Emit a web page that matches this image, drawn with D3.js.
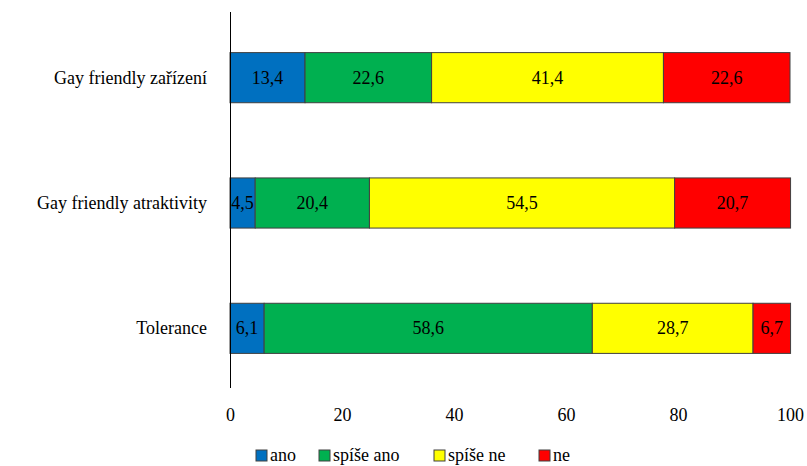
<!DOCTYPE html>
<html>
<head>
<meta charset="utf-8">
<script src="https://cdn.jsdelivr.net/npm/d3@7"></script>
</head>
<body style="margin:0">
<svg id="chart" width="807" height="466" style="display:block"></svg>
<script>
// Categories (top to bottom) and answer groups
const categories = ["Gay friendly zařízení", "Gay friendly atraktivity", "Tolerance"];
const seriesNames = ["ano", "spíše ano", "spíše ne", "ne"];
const seriesColors = ["#0070C0", "#00B050", "#FFFF00", "#FF0000"];

// Shares in percent, one array per answer group, in category order
const ano      = [13.4, 4.5, 6.1];
const spiseAno = [22.6, 20.4, 58.6];
const spiseNe  = [41.4, 54.5, 28.7];
const ne       = [22.6, 20.7, 6.7];

const xTicks = [0, 20, 40, 60, 80, 100];

const seriesValues = [ano, spiseAno, spiseNe, ne];
const FONT = "Liberation Serif";
// Text is set at 20px and scaled to 18px on screen
const FS = 20, K = 0.9;

const rows = categories.map((c, i) => {
  const r = { category: c };
  seriesNames.forEach((s, j) => { r[s] = seriesValues[j][i]; });
  return r;
});

const svg = d3.select("#chart");
const plotLeft = 230, plotRight = 790, axisTop = 12, axisBottom = 388;

const x = d3.scaleLinear().domain([0, 100]).range([plotLeft, plotRight]);
const y = d3.scaleBand().domain(categories).range([15, 391]).paddingInner(0.6).paddingOuter(0.3);

const stacked = d3.stack().keys(seriesNames)(rows);
const fmt = v => d3.format(".1f")(v).replace(".", ",");

// Stacked bars
const groups = svg.append("g").selectAll("g")
  .data(stacked)
  .join("g")
  .attr("fill", (d, i) => seriesColors[i]);

groups.selectAll("rect")
  .data(d => d)
  .join("rect")
  .attr("x", d => x(d[0]))
  .attr("y", d => y(d.data.category))
  .attr("width", d => x(d[1]) - x(d[0]))
  .attr("height", y.bandwidth())
  .attr("stroke", "#404040")
  .attr("stroke-width", 1);

// Value labels centred in each segment
svg.selectAll("text.value")
  .data(stacked.flatMap(s => s.map(v => ({ v, key: s.key }))))
  .join("text")
  .attr("class", "value")
  .attr("transform", d => `translate(${(x(d.v[0]) + x(d.v[1])) / 2},${y(d.v.data.category) + y.bandwidth() / 2 + 6}) scale(${K})`)
  .attr("text-anchor", "middle")
  .attr("fill", "#000")
  .attr("font-family", FONT)
  .attr("font-size", FS)
  .text(d => fmt(d.v.data[d.key]));

// Vertical category axis line
svg.append("line")
  .attr("x1", x(0) + 0.5).attr("x2", x(0) + 0.5)
  .attr("y1", axisTop).attr("y2", axisBottom)
  .attr("stroke", "#000").attr("stroke-width", 1);

// Category labels
svg.selectAll("text.category")
  .data(categories)
  .join("text")
  .attr("class", "category")
  .attr("transform", d => `translate(207,${y(d) + y.bandwidth() / 2 + 6}) scale(${K})`)
  .attr("text-anchor", "end")
  .attr("font-family", FONT)
  .attr("font-size", FS)
  .attr("fill", "#000")
  .text(d => d);

// Value axis tick labels (no axis line)
const xAxis = d3.axisBottom(x).tickValues(xTicks).tickSize(0).tickPadding(0);
const gx = svg.append("g")
  .attr("transform", `translate(0,${axisBottom + 20})`)
  .call(xAxis);
gx.select(".domain").remove();
gx.selectAll("text")
  .attr("transform", `scale(${K})`)
  .attr("font-family", FONT)
  .attr("font-size", FS)
  .attr("fill", "#000");

// Legend
const legendX = [256, 319, 434, 539];
const legend = svg.append("g").selectAll("g")
  .data(seriesNames)
  .join("g")
  .attr("transform", (d, i) => `translate(${legendX[i]},450)`);
legend.append("rect")
  .attr("width", 11).attr("height", 11)
  .attr("fill", (d, i) => seriesColors[i])
  .attr("stroke", "#404040").attr("stroke-width", 1);
legend.append("text")
  .attr("transform", `translate(14,11) scale(${K})`)
  .attr("font-family", FONT)
  .attr("font-size", FS)
  .attr("fill", "#000")
  .text(d => d);
</script>
</body>
</html>
